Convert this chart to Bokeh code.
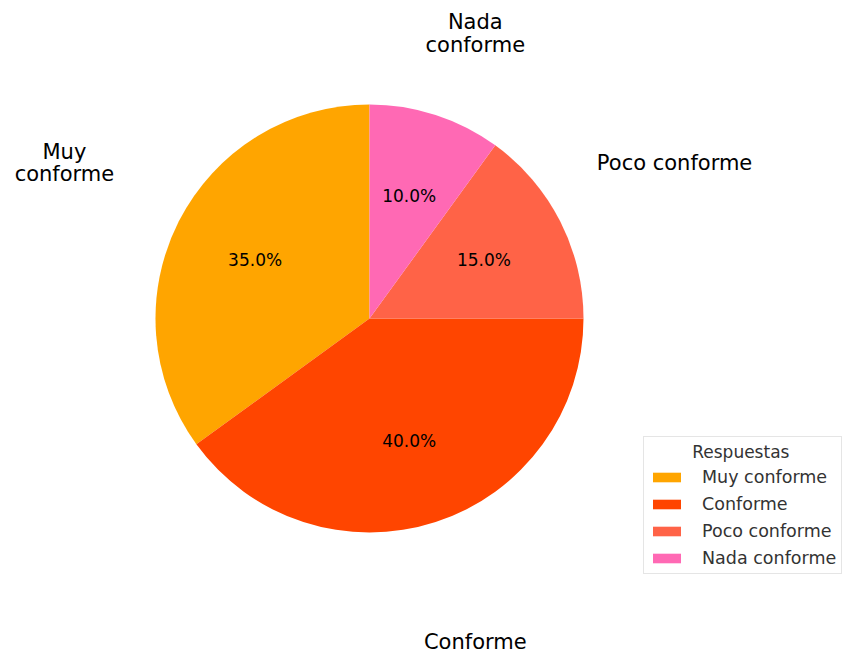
import math
from bokeh.plotting import figure
from bokeh.models import ColumnDataSource, Range1d, Legend, LegendItem
from bokeh.core.properties import value
from bokeh.embed import file_html
from bokeh.resources import INLINE

categories = ["Muy conforme", "Conforme", "Poco conforme", "Nada conforme"]
outer_labels = ["Muy\nconforme", "Conforme", "Poco conforme", "Nada\nconforme"]
shares = [35.0, 40.0, 15.0, 10.0]
colors = ["#FFA500", "#FF4500", "#FF6347", "#FF69B4"]
legend_title = "Respuestas"

W, H = 842, 654
R_PX = 214.0
CX, CY = 369.0, 318.0

total = sum(shares)
starts, ends, mids = [], [], []
a = math.pi / 2
for s in shares:
    span = 2 * math.pi * s / total
    starts.append(a)
    ends.append(a + span)
    mids.append(a + span / 2)
    a += span

ymax = CY / R_PX
ymin = -(H - CY) / R_PX
pct_x = [0.6 * math.cos(m) for m in mids]
pct_y = [0.6 * math.sin(m) for m in mids]
lab_x = [1.6 * math.cos(m) for m in mids]
lab_y = [max(min(1.6 * math.sin(m), ymax - 33 / R_PX), ymin + 13 / R_PX) for m in mids]

src = ColumnDataSource(dict(cat=categories, start=starts, end=ends, color=colors,
                            px=pct_x, py=pct_y,
                            pct=[f"{s:.1f}%" for s in shares],
                            lx=lab_x, ly=lab_y, lab=outer_labels))

p = figure(width=W, height=H, output_backend="svg", toolbar_location=None,
           x_range=Range1d(-CX / R_PX, (W - CX) / R_PX),
           y_range=Range1d(ymin, ymax),
           min_border=0, outline_line_color=None)
p.axis.visible = False
p.grid.visible = False
p.background_fill_color = "white"

r = p.wedge(x=0, y=0, radius=1.0, start_angle="start", end_angle="end",
            fill_color="color", line_color=None, source=src)

p.text(x="px", y="py", text="pct", source=src, text_align="center",
       text_baseline="middle", text_font=value("DejaVu Sans"),
       text_font_size="17px", text_color="black")
p.text(x="lx", y="ly", text="lab", source=src, text_align="center",
       text_baseline="middle", text_font=value("DejaVu Sans"),
       text_font_size="21px", text_color="black", text_line_height=0.95)

legend = Legend(items=[LegendItem(label=c, renderers=[r], index=i) for i, c in enumerate(categories)],
                location=(643, 80), title="\u00a0" * 8 + legend_title,
                title_text_font="DejaVu Sans", title_text_font_size="17px",
                title_text_font_style="normal", title_text_color="#333333",
                label_text_font="DejaVu Sans", label_text_font_size="17.5px",
                label_text_color="#333333",
                glyph_width=35, glyph_height=12, label_standoff=18,
                spacing=7, padding=5, margin=0,
                border_line_color="#cccccc", border_line_width=1,
                background_fill_color="white", background_fill_alpha=0.9)
p.add_layout(legend, "center")

open("out.html", "w").write(file_html(p, INLINE))
